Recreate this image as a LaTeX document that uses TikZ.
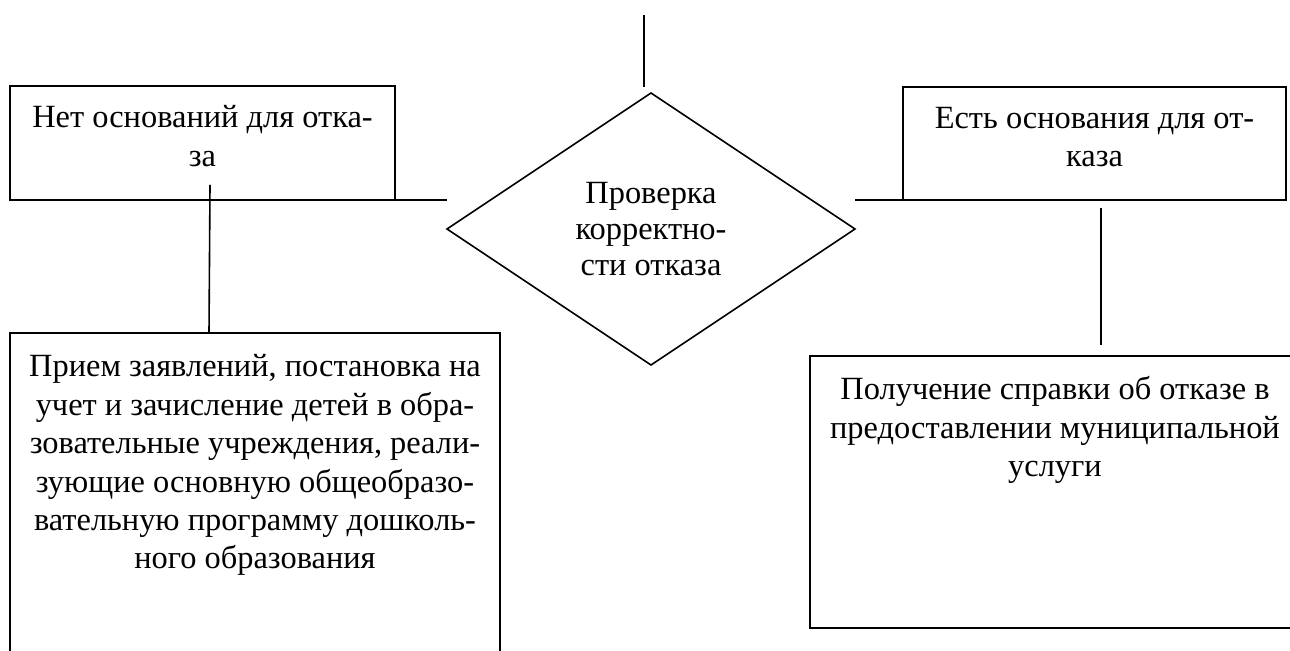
\documentclass[tikz,border=0pt]{standalone}
\usepackage{fontspec}
\setmainfont{Liberation Serif}
\usetikzlibrary{shapes.geometric,positioning}
\tikzset{
  stepbox/.style={draw, rectangle, inner sep=0pt, outer sep=0pt},
  steptext/.style={align=center, inner sep=0pt, font=\fontsize{16.2}{19.2}\selectfont},
  decision/.style={draw, diamond, inner sep=0pt, outer sep=0pt, align=center,
    minimum width=204pt, minimum height=136pt, font=\fontsize{16.2}{18}\selectfont},
}
\begin{document}
\begin{tikzpicture}[x=0.5pt,y=-0.5pt,line width=0.8pt]
  \useasboundingbox (0,0) rectangle (1290,651);
%%
  % Node: nobasis
  \node[stepbox, minimum width=192.5pt, minimum height=57pt] (nobasis) at (202.5,143) {};
  \node[steptext, below=9.5pt of nobasis.north] (nobasistxt) {Нет оснований для отка-\\за};
  % Node: basis
  \node[stepbox, minimum width=191.5pt, minimum height=56.5pt] (basis) at (1094.5,143.5) {};
  \node[steptext, below=9.5pt of basis.north] (basistxt) {Есть основания для от-\\каза};
  % Node: check
  \node[decision] (check) at (651,229) {Проверка\\корректно-\\сти отказа};
  % Node: enroll
  \node[stepbox, minimum width=245pt, minimum height=183.5pt] (enroll) at (255,516.5) {};
  \node[steptext, below=10.5pt of enroll.north] (enrolltxt) {Прием заявлений, постановка на\\
    учет и зачисление детей в обра-\\
    зовательные учреждения, реали-\\
    зующие основную общеобразо-\\
    вательную программу дошколь-\\
    ного образования};
  % Node: refusal
  \node[stepbox, minimum width=245pt, minimum height=136pt] (refusal) at (1055,492) {};
  \node[steptext, below=10pt of refusal.north] (refusaltxt) {Получение справки об отказе в\\
    предоставлении муниципальной\\
    услуги};
%
  \coordinate (entry) at (644,15);
  % Edge: entry -> check
  \draw (entry) -- ([yshift=3pt]check.north -| entry);
  % Edge: nobasis -> check
  \draw (nobasis.south east) -- (nobasis.south east -| check.west);
  % Edge: check -> basis
  \draw (basis.south west) -- (basis.south west -| check.east);
  % Edge: nobasis -> enroll
  \draw ([xshift=3.75pt,yshift=7.5pt]nobasis.south) -- (enroll.north -| 209,0);
  % Edge: basis -> refusal
  \draw ([xshift=3.25pt,yshift=-4pt]basis.south) -- ([yshift=5.5pt]refusal.north -| 1101,0);
\end{tikzpicture}
\end{document}
